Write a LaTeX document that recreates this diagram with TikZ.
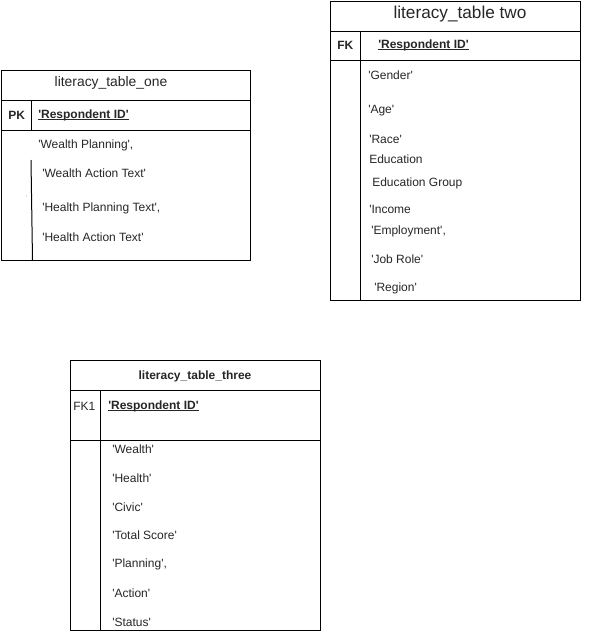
\documentclass[tikz,border=0pt]{standalone}
\usepackage{fontspec}
\setmainfont{Liberation Sans}[Ligatures=TeXOff]
\begin{document}
\begin{tikzpicture}[x=0.75pt,y=-0.75pt,
  frame/.style={draw=black,line width=0.75pt},
  uline/.style={draw=black!85,line width=0.8pt},
  txt/.style={anchor=west,inner sep=0pt,font=\fontsize{9}{11}\selectfont,text=black!85},
  title/.style={anchor=center,inner sep=0pt,font=\fontsize{10.4}{12}\selectfont,text=black!85},
  key/.style={anchor=west,inner sep=0pt,font=\fontsize{9}{11}\selectfont\bfseries,text=black!85}]
\useasboundingbox (0,0) rectangle (591,633);

% ---- literacy_table_one ----
\draw[frame] (1,70) rectangle (250,260);
\draw[frame] (1,100) -- (250,100);
\draw[frame] (1,130) -- (250,130);
\draw[frame] (31,100) -- (31,130);
\draw[frame] (31,160) -- (32.5,260);
\node[title] (t1) at (111,83) {literacy\_table\_one};
\node[key] (t1pk) at (8,115.5) {PK};
\node[key] (t1id) at (38,115.5) {'Respondent ID'};
\draw[uline] ([yshift=-1pt]t1id.base west) -- ([yshift=-1pt]t1id.base east);
\node[txt] (t1a) at (38,145.5) {'Wealth Planning',};
\node[txt] (t1b) at (42,173.5) {'Wealth Action Text'};
\node[txt] (t1c) at (42,208.5) {'Health Planning Text',};
\node[txt] (t1d) at (42,237.5) {'Health Action Text'};
\node[inner sep=0pt,font=\fontsize{4}{5}\selectfont,text=black!60] (t1s) at (27,198) {'};

% ---- literacy_table two ----
\draw[frame] (330,1) rectangle (580,300);
\draw[frame] (330,31) -- (580,31);
\draw[frame] (330,60) -- (580,60);
\draw[frame] (360,31) -- (360,300);
\node[title,font=\fontsize{12.9}{15}\selectfont] (t2) at (460,14) {literacy\_table two};
\node[key] (t2fk) at (337,45.5) {FK};
\node[key] (t2id) at (378,45.5) {'Respondent ID'};
\draw[uline] ([yshift=-1pt]t2id.base west) -- ([yshift=-1pt]t2id.base east);
\node[txt] (t2a) at (368,75) {'Gender'};
\node[txt] (t2b) at (368,111) {'Age'};
\node[txt] (t2c) at (369,139.5) {'Race'};
\node[txt] (t2d) at (369,159.5) {Education};
\node[txt] (t2e) at (372,183.5) {Education Group};
\node[txt] (t2f) at (369,209.5) {'Income};
\node[txt] (t2g) at (371,231.5) {'Employment',};
\node[txt] (t2h) at (371,259.5) {'Job Role'};
\node[txt] (t2i) at (374,288.5) {'Region'};

% ---- literacy_table_three ----
\draw[frame] (70,360) rectangle (320,630);
\draw[frame] (70,390) -- (320,390);
\draw[frame] (70,440) -- (320,440);
\draw[frame] (100,390) -- (100,630);
\node[title,font=\fontsize{9}{11}\selectfont\bfseries] (t3) at (195,376) {literacy\_table\_three};
\node[txt] (t3fk) at (73,406) {FK1};
\node[key] (t3id) at (108,406) {'Respondent ID'};
\draw[uline] ([yshift=-1pt]t3id.base west) -- ([yshift=-1pt]t3id.base east);
\node[txt] (t3a) at (112,449) {'Wealth'};
\node[txt] (t3b) at (112,478) {'Health'};
\node[txt] (t3c) at (112,507) {'Civic'};
\node[txt] (t3d) at (112,535.5) {'Total Score'};
\node[txt] (t3e) at (112,564.5) {'Planning',};
\node[txt] (t3f) at (112,593) {'Action'};
\node[txt] (t3g) at (112,622) {'Status'};
\end{tikzpicture}
\end{document}
